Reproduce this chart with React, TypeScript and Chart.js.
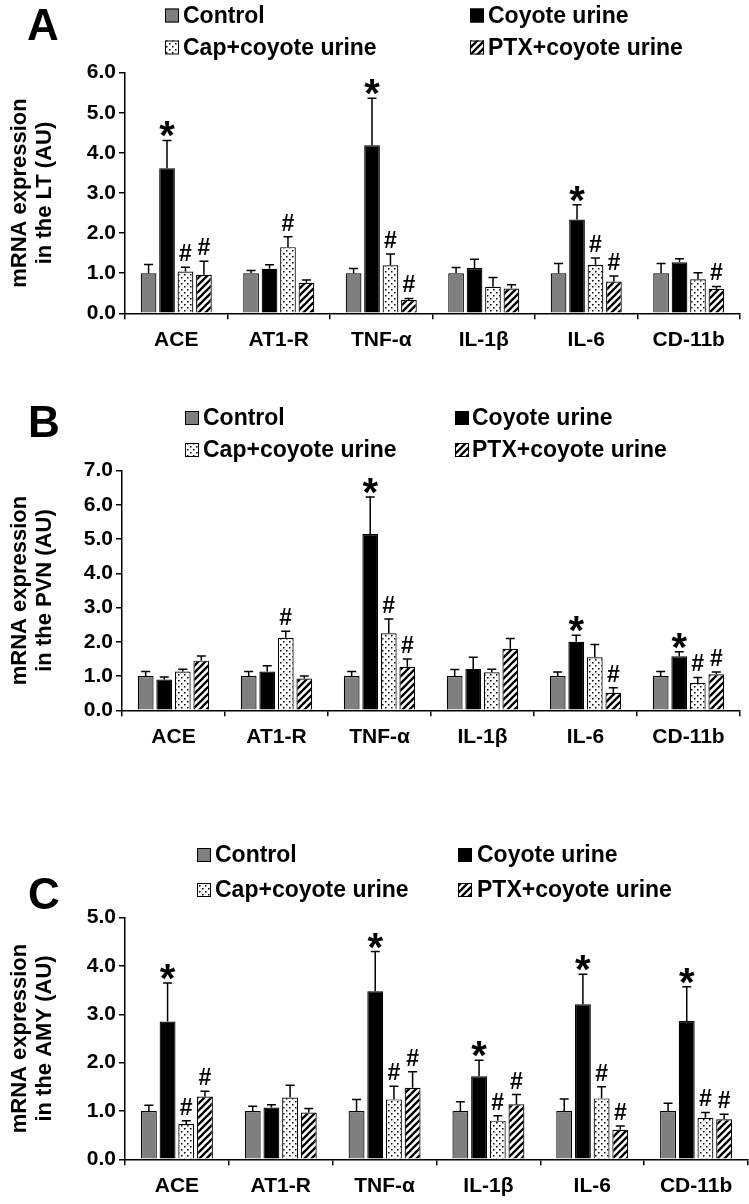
import React, { useEffect, useRef } from 'react';
import { Chart, registerables } from 'chart.js';
Chart.register(...registerables);

const FONT = "'Liberation Sans', Arial, Helvetica, sans-serif";

const categories = ['ACE', 'AT1-R', 'TNF-α', 'IL-1β', 'IL-6', 'CD-11b'];
const seriesNames = ['Control', 'Coyote urine', 'Cap+coyote urine', 'PTX+coyote urine'];

// Panel A (LT)
const aControl = [1.0, 1.0, 1.0, 1.0, 1.0, 1.0];
const aControlSem = [0.22, 0.07, 0.12, 0.14, 0.24, 0.24];
const aCoyote = [3.62, 1.11, 4.19, 1.13, 2.34, 1.27];
const aCoyoteSem = [0.69, 0.1, 1.17, 0.22, 0.37, 0.09];
const aCap = [1.04, 1.65, 1.2, 0.66, 1.21, 0.85];
const aCapSem = [0.11, 0.26, 0.28, 0.23, 0.17, 0.16];
const aPtx = [0.96, 0.76, 0.33, 0.62, 0.79, 0.61];
const aPtxSem = [0.34, 0.07, 0.04, 0.09, 0.14, 0.06];
const aMarksCoyote = ['*', '', '*', '', '*', ''];
const aMarksCap = ['#', '#', '#', '', '#', ''];
const aMarksPtx = ['#', '', '#', '', '#', '#'];

// Panel B (PVN)
const bControl = [1.0, 1.0, 1.0, 1.0, 1.0, 1.0];
const bControlSem = [0.13, 0.13, 0.13, 0.19, 0.12, 0.13];
const bCoyote = [0.9, 1.13, 5.15, 1.21, 2.0, 1.58];
const bCoyoteSem = [0.07, 0.17, 1.08, 0.34, 0.19, 0.13];
const bCap = [1.13, 2.12, 2.25, 1.11, 1.55, 0.8];
const bCapSem = [0.07, 0.19, 0.42, 0.09, 0.37, 0.16];
const bPtx = [1.45, 0.93, 1.27, 1.8, 0.51, 1.05];
const bPtxSem = [0.14, 0.07, 0.23, 0.3, 0.15, 0.07];
const bMarksCoyote = ['', '', '*', '', '*', '*'];
const bMarksCap = ['', '#', '#', '', '', '#'];
const bMarksPtx = ['', '', '#', '', '#', '#'];

// Panel C (AMY)
const cControl = [1.0, 1.0, 1.0, 1.0, 1.0, 1.0];
const cControlSem = [0.12, 0.1, 0.24, 0.19, 0.25, 0.16];
const cCoyote = [2.85, 1.07, 3.48, 1.72, 3.21, 2.86];
const cCoyoteSem = [0.8, 0.06, 0.82, 0.33, 0.62, 0.71];
const cCap = [0.73, 1.28, 1.24, 0.8, 1.26, 0.86];
const cCapSem = [0.07, 0.25, 0.27, 0.1, 0.24, 0.11];
const cPtx = [1.3, 0.97, 1.48, 1.14, 0.61, 0.83];
const cPtxSem = [0.11, 0.08, 0.33, 0.2, 0.08, 0.1];
const cMarksCoyote = ['*', '', '*', '*', '*', '*'];
const cMarksCap = ['#', '', '#', '#', '#', '#'];
const cMarksPtx = ['#', '', '#', '#', '#', '#'];

const panels = [
  {
    letter: 'A', region: 'in the LT (AU)', yMax: 6,
    means: [aControl, aCoyote, aCap, aPtx], sems: [aControlSem, aCoyoteSem, aCapSem, aPtxSem],
    marks: [['', '', '', '', '', ''], aMarksCoyote, aMarksCap, aMarksPtx],
    layout: { top: 0, height: 370, areaTop: 72.7, areaBottom: 313.3, left: 125, right: 740,
      letterX: 27, letterY: 40, row1: 15.5, row2: 47.5, box1: 165, text1: 183, box2: 470, text2: 488 },
  },
  {
    letter: 'B', region: 'in the PVN (AU)', yMax: 7,
    means: [bControl, bCoyote, bCap, bPtx], sems: [bControlSem, bCoyoteSem, bCapSem, bPtxSem],
    marks: [['', '', '', '', '', ''], bMarksCoyote, bMarksCap, bMarksPtx],
    layout: { top: 370, height: 400, areaTop: 100.7, areaBottom: 340.3, left: 122, right: 740,
      letterX: 28, letterY: 67, row1: 48, row2: 80, box1: 185, text1: 203, box2: 455, text2: 472 },
  },
  {
    letter: 'C', region: 'in the AMY (AU)', yMax: 5,
    means: [cControl, cCoyote, cCap, cPtx], sems: [cControlSem, cCoyoteSem, cCapSem, cPtxSem],
    marks: [['', '', '', '', '', ''], cMarksCoyote, cMarksCap, cMarksPtx],
    layout: { top: 770, height: 434, areaTop: 147.7, areaBottom: 389.3, left: 125, right: 748,
      letterX: 28, letterY: 139, row1: 85, row2: 120, box1: 197, text1: 215, box2: 458, text2: 477 },
  },
];

function makeFills(ctx: CanvasRenderingContext2D) {
  const dot = document.createElement('canvas');
  dot.width = 6; dot.height = 6;
  const d = dot.getContext('2d')!;
  d.fillStyle = '#fff'; d.fillRect(0, 0, 6, 6);
  d.fillStyle = '#000';
  d.fillRect(1, 1, 1.5, 1.5);
  d.fillRect(4, 4, 1.5, 1.5);
  const s = 7;
  const st = document.createElement('canvas');
  st.width = s; st.height = s;
  const t = st.getContext('2d')!;
  t.fillStyle = '#fff'; t.fillRect(0, 0, s, s);
  t.strokeStyle = '#000'; t.lineWidth = 2.3;
  t.beginPath();
  for (const o of [-s, 0, s]) { t.moveTo(o - 1, s + 1); t.lineTo(o + s + 1, -1); }
  t.stroke();
  return ['#7f7f7f', '#000000', ctx.createPattern(dot, 'repeat')!, ctx.createPattern(st, 'repeat')!];
}

function Panel({ p }: { p: any }) {
  const ref = useRef<HTMLCanvasElement>(null);
  useEffect(() => {
    const canvas = ref.current!;
    const ctx0 = canvas.getContext('2d')!;
    const fills = makeFills(ctx0);
    const L = p.layout;
    const overlay = {
      id: 'overlay',
      afterDatasetsDraw(chart: any) {
        const ctx = chart.ctx;
        const y = chart.scales.y;
        ctx.save();
        p.means.forEach((vals: number[], i: number) => {
          const meta = chart.getDatasetMeta(i);
          vals.forEach((v: number, j: number) => {
            const el = meta.data[j];
            const top = y.getPixelForValue(v + p.sems[i][j]);
            ctx.strokeStyle = '#000'; ctx.lineWidth = 1.5;
            ctx.beginPath();
            ctx.moveTo(el.x, el.y); ctx.lineTo(el.x, top);
            ctx.moveTo(el.x - 4.5, top); ctx.lineTo(el.x + 4.5, top);
            ctx.stroke();
            const m = p.marks[i][j];
            if (m) {
              const star = m === '*';
              ctx.font = `bold ${star ? 40 : 23}px ${FONT}`;
              ctx.fillStyle = '#000';
              ctx.textAlign = 'center';
              ctx.textBaseline = 'alphabetic';
              const mm = ctx.measureText(m);
              const gap = star ? 3 : 6;
              ctx.fillText(m, el.x, top - gap - mm.actualBoundingBoxDescent);
            }
          });
        });
        ctx.restore();
      },
      afterDraw(chart: any) {
        const ctx = chart.ctx;
        ctx.save();
        ctx.fillStyle = '#000';
        ctx.textAlign = 'left';
        ctx.textBaseline = 'alphabetic';
        ctx.font = `bold 44px ${FONT}`;
        ctx.fillText(p.letter, L.letterX, L.letterY);
        const items = [
          [L.box1, L.text1, L.row1], [L.box2, L.text2, L.row1],
          [L.box1, L.text1, L.row2], [L.box2, L.text2, L.row2],
        ];
        ctx.font = `bold 23px ${FONT}`;
        ctx.textBaseline = 'middle';
        items.forEach(([bx, tx, ry], i) => {
          ctx.fillStyle = fills[i] as any;
          ctx.fillRect(bx, ry - 7, 14, 14);
          ctx.strokeStyle = '#000'; ctx.lineWidth = 1;
          ctx.strokeRect(bx + 0.5, ry - 6.5, 13, 13);
          ctx.fillStyle = '#000';
          ctx.fillText(seriesNames[i], tx, ry + 1);
        });
        ctx.restore();
      },
    };
    const chart = new Chart(canvas, {
      type: 'bar',
      data: {
        labels: categories,
        datasets: p.means.map((vals: number[], i: number) => ({
          label: seriesNames[i],
          data: vals,
          backgroundColor: fills[i],
          borderColor: '#000',
          borderWidth: 1.2,
          categoryPercentage: 0.72,
          barPercentage: 0.85,
        })),
      },
      options: {
        responsive: false,
        animation: false,
        devicePixelRatio: 1,
        layout: { padding: { top: L.areaTop, left: 0, right: 749 - L.right, bottom: 0 } },
        plugins: { legend: { display: false }, tooltip: { enabled: false } },
        scales: {
          x: {
            afterFit: (s: any) => { s.height = L.height - L.areaBottom; },
            grid: { offset: true, drawOnChartArea: false, drawTicks: true, tickLength: 6, color: '#000', lineWidth: 1.5 },
            border: { display: true, color: '#000', width: 1.5 },
            ticks: { color: '#000', font: { family: FONT, size: 21, weight: 'bold' }, padding: 8, maxRotation: 0, autoSkip: false },
          },
          y: {
            min: 0, max: p.yMax,
            afterFit: (s: any) => { s.width = L.left; },
            grid: { drawOnChartArea: false, drawTicks: true, tickLength: 6, color: '#000', lineWidth: 1.5 },
            border: { display: true, color: '#000', width: 1.5 },
            ticks: { stepSize: 1, color: '#000', font: { family: FONT, size: 21, weight: 'bold' }, padding: 3,
              callback: (v: any) => Number(v).toFixed(1) },
            title: { display: true, text: ['mRNA expression', p.region], color: '#000',
              font: { family: FONT, size: 22, weight: 'bold', lineHeight: 1.15 }, padding: { top: 7, bottom: 0 } },
          },
        },
      },
      plugins: [overlay],
    } as any);
    return () => chart.destroy();
  }, [p]);
  return (
    <canvas ref={ref} width={749} height={p.layout.height}
      style={{ position: 'absolute', left: 0, top: p.layout.top, width: 749, height: p.layout.height }} />
  );
}

export default function App() {
  return (
    <div style={{ position: 'absolute', left: 0, top: 0, width: 749, height: 1204, background: '#fff', overflow: 'hidden' }}>
      {panels.map((p) => <Panel key={p.letter} p={p} />)}
    </div>
  );
}
